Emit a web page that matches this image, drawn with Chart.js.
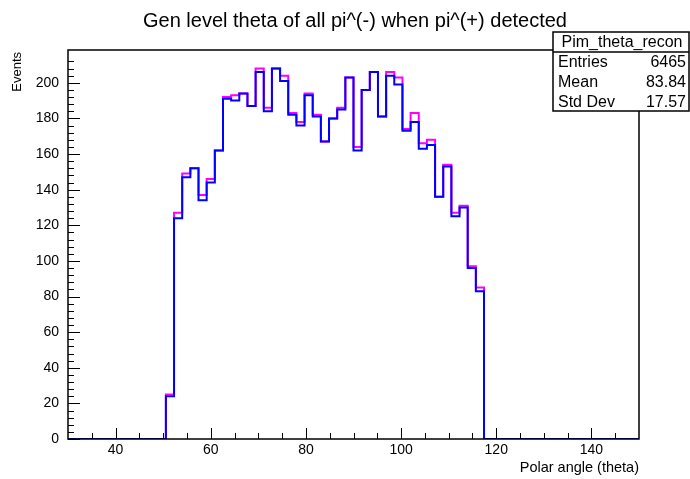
<!DOCTYPE html>
<html>
<head>
<meta charset="utf-8">
<title>Pim theta</title>
<script src="https://cdn.jsdelivr.net/npm/chart.js@4.4.1/dist/chart.umd.min.js"></script>
<style>
  html, body { margin: 0; padding: 0; background: #fff; }
</style>
</head>
<body>
<canvas id="thetaChart" width="690" height="479"></canvas>
<script>
// histogram binning (degrees)
const binLow = 30;
const binHigh = 150;
const nBins = 70;

// gen level theta of pi-, all events (magenta)
const thetaAll = [
  0, 0, 0, 0, 0, 0, 0, 0, 0, 0, 0, 0,
  25, 127, 149, 152, 137, 146, 162, 192, 193, 194,
  187, 208, 186, 208, 204, 183, 178, 194, 182, 167,
  180, 186, 203, 164, 196, 206, 181, 206, 203, 174,
  183, 166, 168, 136, 154, 127, 131, 97, 85,
  0, 0, 0, 0, 0, 0, 0, 0, 0, 0, 0, 0, 0, 0, 0, 0, 0, 0, 0
];

// gen level theta of pi- when pi+ detected (blue, Pim_theta_recon)
const thetaRecon = [
  0, 0, 0, 0, 0, 0, 0, 0, 0, 0, 0, 0,
  24, 124, 147, 152, 134, 144, 162, 191, 190, 194,
  187, 206, 184, 208, 201, 182, 176, 193, 181, 167,
  180, 185, 203, 162, 196, 206, 181, 204, 199, 173,
  178, 163, 165, 136, 153, 125, 130, 96, 83,
  0, 0, 0, 0, 0, 0, 0, 0, 0, 0, 0, 0, 0, 0, 0, 0, 0, 0, 0
];

const xTicks = [40, 60, 80, 100, 120, 140];
const yTicks = [0, 20, 40, 60, 80, 100, 120, 140, 160, 180, 200];
const yMax = 218.4;

const statsName = 'Pim_theta_recon';
const statsRows = [
  ['Entries', '6465'],
  ['Mean', '83.84'],
  ['Std Dev', '17.57']
];

const FONT = '"Liberation Sans", Arial, Helvetica, sans-serif';

// turn bin contents into step points at the bin low edges
function toSteps(counts) {
  const w = (binHigh - binLow) / nBins;
  const pts = [];
  for (let k = 0; k <= nBins; k++) {
    pts.push({ x: binLow + k * w, y: counts[Math.min(k, nBins - 1)] });
  }
  return pts;
}

// ROOT style frame, inward ticks, titles and stats box
const rootDecor = {
  id: 'rootDecor',
  afterDraw(chart) {
    const { ctx, chartArea: a, scales: { x, y } } = chart;
    ctx.save();
    ctx.strokeStyle = '#000';
    ctx.lineWidth = 1;

    ctx.beginPath();
    for (let v = 0; v <= 215; v += 4) {
      const py = Math.round(y.getPixelForValue(v)) + 0.5;
      const len = v % 20 === 0 ? 12 : 6;
      ctx.moveTo(a.left, py);
      ctx.lineTo(a.left + len, py);
    }
    for (let v = 35; v < binHigh; v += 5) {
      const px = Math.round(x.getPixelForValue(v)) + 0.5;
      const len = v % 20 === 0 ? 11 : 6;
      ctx.moveTo(px, a.bottom);
      ctx.lineTo(px, a.bottom - len);
    }
    ctx.stroke();

    ctx.lineWidth = 1.5;
    ctx.strokeRect(a.left, a.top, a.right - a.left, a.bottom - a.top);

    ctx.fillStyle = '#000';
    ctx.font = '20px ' + FONT;
    ctx.textAlign = 'center';
    ctx.textBaseline = 'alphabetic';
    ctx.fillText('Gen level theta of all pi^(-) when pi^(+) detected', 355, 27);

    ctx.font = '14.5px ' + FONT;
    ctx.textAlign = 'right';
    ctx.fillText('Polar angle (theta)', a.right, 472);

    ctx.save();
    ctx.translate(17, a.top + 2);
    ctx.rotate(-Math.PI / 2);
    ctx.font = '13px ' + FONT;
    ctx.textAlign = 'right';
    ctx.textBaseline = 'middle';
    ctx.fillText('Events', 0, 0);
    ctx.restore();

    // stats box
    const bx = 553, by = 32, bw = 136, bh = 79, hdr = 20;
    ctx.fillStyle = '#fff';
    ctx.fillRect(bx, by, bw, bh);
    ctx.lineWidth = 1.5;
    ctx.strokeRect(bx, by, bw, bh);
    ctx.beginPath();
    ctx.moveTo(bx, by + hdr);
    ctx.lineTo(bx + bw, by + hdr);
    ctx.stroke();

    ctx.fillStyle = '#000';
    ctx.font = '16px ' + FONT;
    ctx.textBaseline = 'middle';
    ctx.textAlign = 'center';
    ctx.fillText(statsName, bx + bw / 2 + 1, by + hdr / 2 + 1);
    const rowH = (bh - hdr) / statsRows.length;
    statsRows.forEach(([label, val], i) => {
      const cy = by + hdr + rowH * (i + 0.5) + 1;
      ctx.textAlign = 'left';
      ctx.fillText(label, bx + 5, cy);
      ctx.textAlign = 'right';
      ctx.fillText(val, bx + bw - 3, cy);
    });
    ctx.restore();
  }
};

new Chart(document.getElementById('thetaChart'), {
  type: 'line',
  data: {
    datasets: [
      {
        label: 'Pim_theta_recon',
        data: toSteps(thetaRecon),
        borderColor: '#0000ff',
        borderWidth: 2,
        stepped: true,
        pointRadius: 0,
        fill: false
      },
      {
        label: 'Pim_theta',
        data: toSteps(thetaAll),
        borderColor: '#ff00ff',
        borderWidth: 2,
        stepped: true,
        pointRadius: 0,
        fill: false
      }
    ]
  },
  options: {
    responsive: false,
    animation: false,
    devicePixelRatio: 1,
    layout: { padding: { left: 0, top: 50, right: 51, bottom: 0 } },
    plugins: {
      legend: { display: false },
      tooltip: { enabled: false },
      title: { display: false }
    },
    scales: {
      x: {
        type: 'linear',
        min: binLow,
        max: binHigh,
        afterBuildTicks: s => { s.ticks = xTicks.map(v => ({ value: v })); },
        afterFit: s => { s.height = 40; },
        grid: { display: false, drawTicks: false },
        border: { display: false },
        ticks: {
          color: '#000',
          padding: 3,
          maxRotation: 0,
          font: { family: FONT, size: 14 }
        }
      },
      y: {
        type: 'linear',
        min: 0,
        max: yMax,
        afterBuildTicks: s => { s.ticks = yTicks.map(v => ({ value: v })); },
        afterFit: s => { s.width = 68; },
        grid: { display: false, drawTicks: false },
        border: { display: false },
        ticks: {
          color: '#000',
          padding: 9,
          font: { family: FONT, size: 14 }
        }
      }
    }
  },
  plugins: [rootDecor]
});
</script>
</body>
</html>
